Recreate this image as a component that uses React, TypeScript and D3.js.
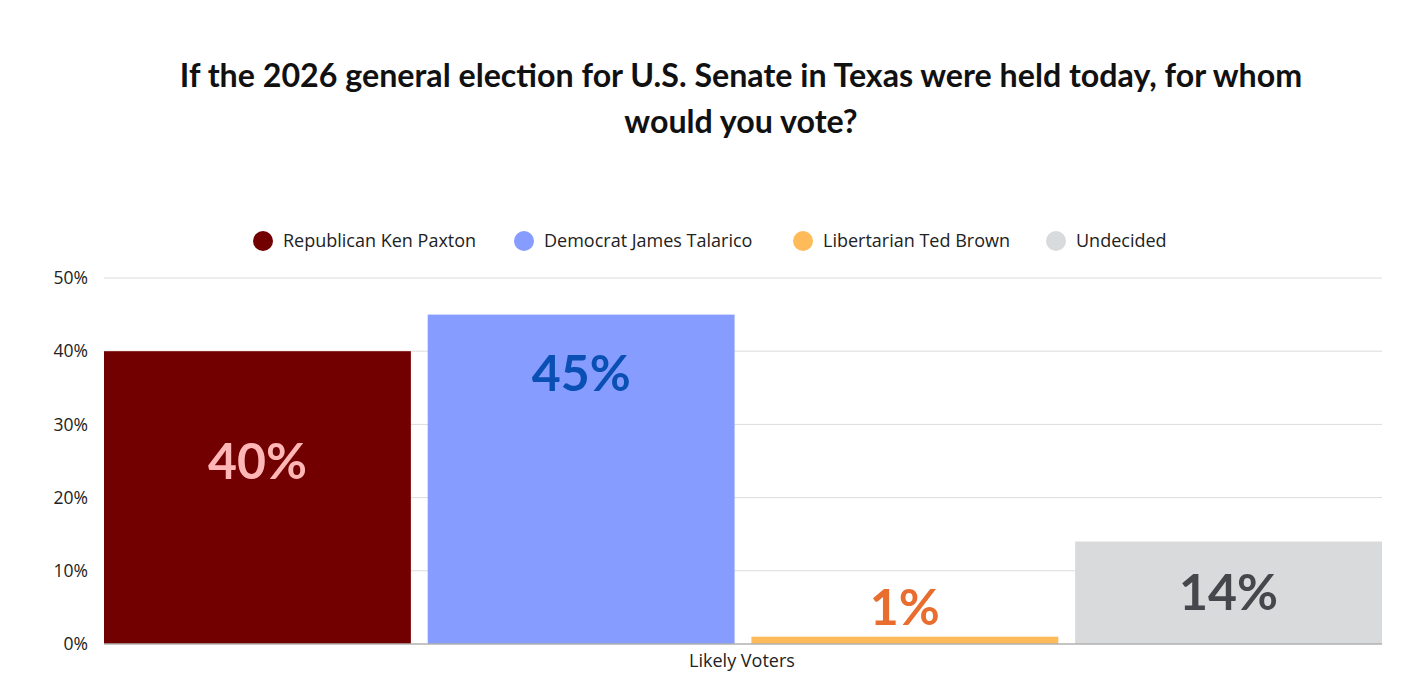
import * as d3 from "d3"

const categories = ["Republican Ken Paxton", "Democrat James Talarico", "Libertarian Ted Brown", "Undecided"]
const values = [40, 45, 1, 14]
const barColors = ["#730000", "#869cff", "#ffbb5a", "#d9dadc"]
const labelColors = ["#ffb6b6", "#0a4fb4", "#e86d2e", "#46474c"]
// where each value label sits, in percent units on the y axis
const labelBaseline = [22.5, 34.5, 2.6, 4.6]
const yTicks = [0, 10, 20, 30, 40, 50]
const titleLines = ["If the 2026 general election for U.S. Senate in Texas were held today, for whom", "would you vote?"]
const xLabel = "Likely Voters"

const W = 1428
const H = 696
const margin = { left: 104, right: 46, top: 278, bottom: 52 }

export default function App() {
  const x = d3
    .scaleBand<string>()
    .domain(categories)
    .range([margin.left, W - margin.right])
    .paddingInner(0.052)
    .paddingOuter(0)
  const y = d3
    .scaleLinear()
    .domain([0, 50])
    .range([H - margin.bottom, margin.top])

  const legendX = [263, 524, 803, 1056]
  const font = "'Open Sans', sans-serif"
  const bold = "Lato, sans-serif"

  return (
    <svg width={W} height={H} style={{ display: "block", margin: -8 }} fontFamily={font}>
      <rect width={W} height={H} fill="#fff" />
      {titleLines.map((t, i) => (
        <text key={i} x={741} y={87 + i * 46} textAnchor="middle" fontSize={32.2} fontWeight={700} fill="#111" fontFamily={bold}>
          {t}
        </text>
      ))}

      {categories.map((c, i) => (
        <g key={c} transform={`translate(${legendX[i]},241)`}>
          <circle cx={0} cy={0} r={10} fill={barColors[i]} />
          <text x={20} y={0} dy="0.35em" fontSize={18} fill="#222">
            {c}
          </text>
        </g>
      ))}

      {yTicks.map((t) => (
        <g key={t}>
          {t > 0 && (
            <line x1={margin.left} x2={W - margin.right} y1={y(t)} y2={y(t)} stroke="#dcdcdc" strokeWidth={1} />
          )}
          <text x={88} y={y(t)} dy="0.35em" textAnchor="end" fontSize={17.5} fill="#222">
            {t}%
          </text>
        </g>
      ))}

      {categories.map((c, i) => (
        <rect key={c} x={x(c)} y={y(values[i])} width={x.bandwidth()} height={y(0) - y(values[i])} fill={barColors[i]} />
      ))}
      <line x1={margin.left} x2={W - margin.right} y1={y(0)} y2={y(0)} stroke="#b0b0b0" strokeWidth={1.5} />

      {categories.map((c, i) => (
        <text
          key={c}
          x={(x(c) ?? 0) + x.bandwidth() / 2}
          y={y(labelBaseline[i])}
          textAnchor="middle"
          fontSize={50}
          fontWeight={700}
          fill={labelColors[i]}
          fontFamily={bold}
        >
          {values[i]}%
        </text>
      ))}

      <text x={742} y={667} textAnchor="middle" fontSize={18} fill="#222">
        {xLabel}
      </text>
    </svg>
  )
}
